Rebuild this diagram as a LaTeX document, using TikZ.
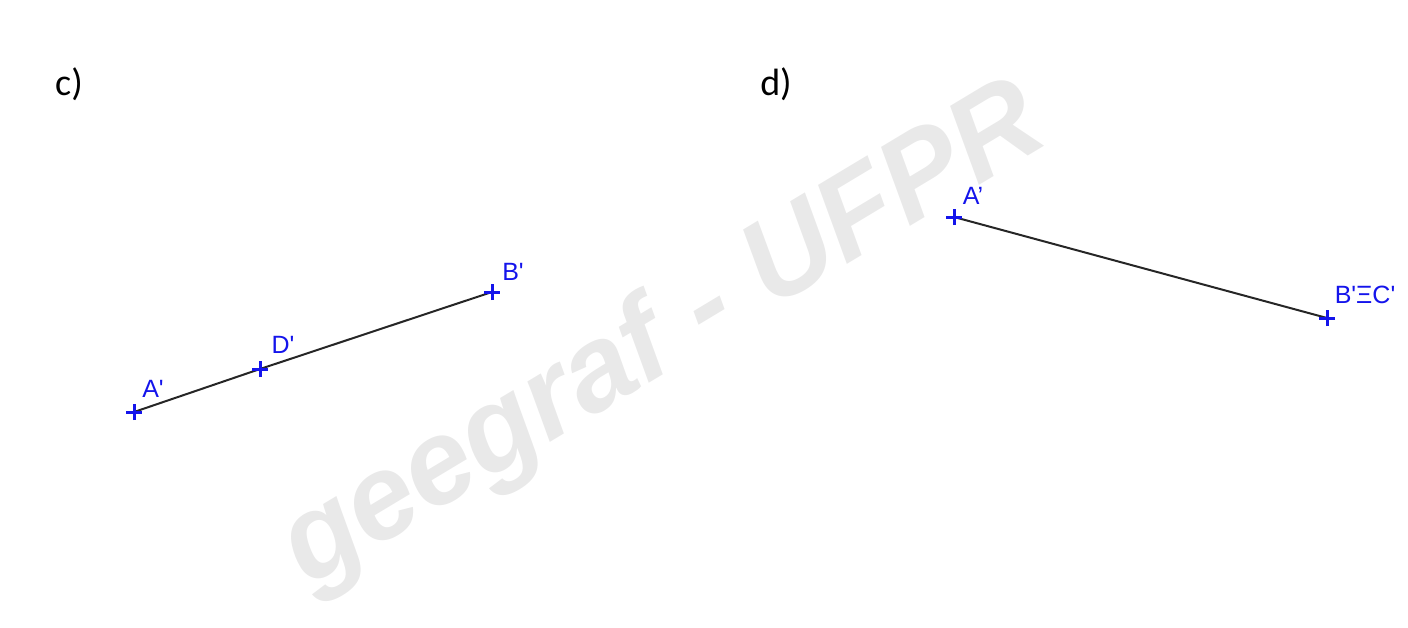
\documentclass[tikz,border=0pt]{standalone}
\usepackage{fontspec}
\setmainfont{Liberation Sans}
\newfontfamily\captfont{Carlito}
\usetikzlibrary{positioning}
\definecolor{ptblue}{RGB}{20,20,235}
\definecolor{wmgray}{RGB}{233,233,233}

\begin{document}
\begin{tikzpicture}[
  x=0.5pt, y=-0.5pt,
  every node/.style={inner sep=0pt},
  ptlabel/.style={text=ptblue, font=\fontsize{12.5}{14}\selectfont},
  partlabel/.style={font=\captfont\fontsize{19}{22}\selectfont},
  segline/.style={line width=1pt, black!85},
  crossarm/.style={ptblue, line width=1.5pt},
]
\useasboundingbox (0,0) rectangle (1408,627);

% Watermark
\node[text=wmgray, rotate=31, font=\bfseries\itshape\fontsize{60}{70}\selectfont] (wm) at (664,338) {geegraf - UFPR};

% Part labels
\node[partlabel] (lblc) at (69,84) {c)};
\node[partlabel] (lbld) at (776,84) {d)};

% Points of c)
\coordinate (cA) at (134,412);
\coordinate (cD) at (260,369);
\coordinate (cB) at (492,292);
% Points of d)
\coordinate (dA) at (954,217);
\coordinate (dB) at (1327,318);

% Segments
\draw[segline] (cA) -- (cD) -- (cB);
\draw[segline] (dA) -- (dB);

% Crosses
\foreach \p in {cA, cD, cB, dA, dB} {
  \draw[crossarm] ([xshift=-4pt]\p) -- ([xshift=4pt]\p);
  \draw[crossarm] ([yshift=-4pt]\p) -- ([yshift=4pt]\p);
}

% Labels
\node[ptlabel] (tA) at (153,389) {A\textquotesingle};
\node[ptlabel] (tD) at (283,345) {D\textquotesingle};
\node[ptlabel] (tB) at (513,272) {B\textquotesingle};
\node[ptlabel] (tdA) at (973,196) {A’};
\node[ptlabel] (tdB) at (1365,295) {B\textquotesingle ΞC\textquotesingle};
\end{tikzpicture}
\end{document}
